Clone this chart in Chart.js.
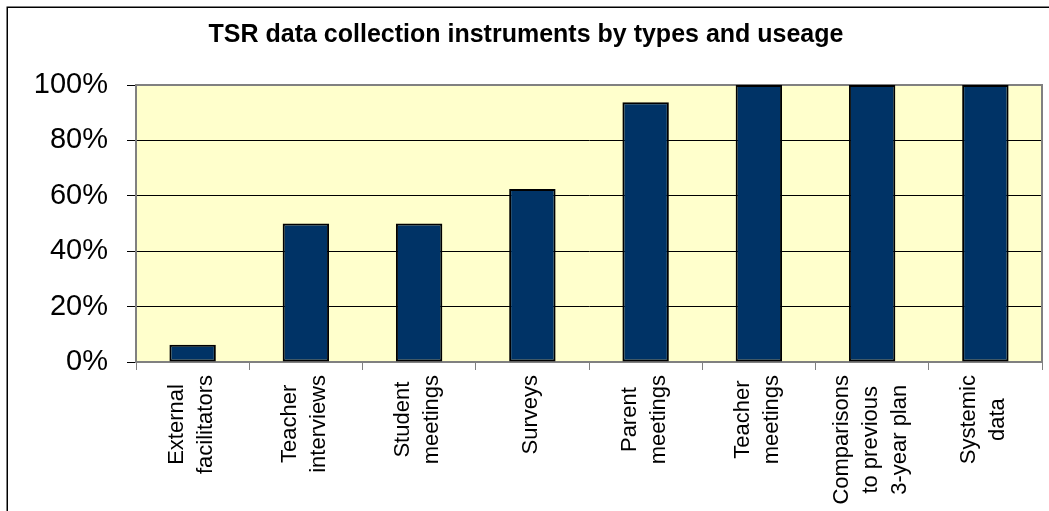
<!DOCTYPE html>
<html>
<head>
<meta charset="utf-8">
<script src="https://cdn.jsdelivr.net/npm/chart.js@4/dist/chart.umd.min.js"></script>
<style>
  html, body { margin: 0; padding: 0; background: #fff; }
  #wrap { width: 1049px; height: 511px; }
</style>
</head>
<body>
<div id="wrap"><canvas id="chart" width="1049" height="511"></canvas></div>
<script>
// data (share of schools using each instrument)
const categories = [
  ['External', 'facilitators'],
  ['Teacher', 'interviews'],
  ['Student', 'meetings'],
  ['Surveys'],
  ['Parent', 'meetings'],
  ['Teacher', 'meetings'],
  ['Comparisons', 'to previous', '3-year plan'],
  ['Systemic', 'data']
];
const usage = [6.25, 50, 50, 62.5, 93.75, 100, 100, 100];
const yTicks = [0, 20, 40, 60, 80, 100];

const FONT = '"Liberation Sans", Arial, sans-serif';

// white frame, yellow plot area and its grey border
const framePlugin = {
  id: 'frame',
  beforeDraw(chart) {
    const c = chart.ctx, a = chart.chartArea;
    c.save();
    c.fillStyle = '#fff';
    c.fillRect(0, 0, chart.width, chart.height);
    c.strokeStyle = '#000';
    c.lineWidth = 1.5;
    c.strokeRect(7.25, 7.25, chart.width + 20, chart.height + 20);
    c.fillStyle = '#FFFFCC';
    c.fillRect(a.left, a.top, a.right - a.left, a.bottom - a.top);
    c.restore();
  },
  beforeDatasetsDraw(chart) {
    const c = chart.ctx, a = chart.chartArea;
    c.save();
    c.strokeStyle = '#808080';
    c.lineWidth = 2;
    c.strokeRect(a.left, a.top, a.right - a.left, a.bottom - a.top);
    c.restore();
  }
};

// vertical category labels, lines centred inside their block
const xLabelPlugin = {
  id: 'xLabels',
  afterDraw(chart) {
    const c = chart.ctx, xs = chart.scales.x;
    const top = xs.top + 13, gap = 29;
    c.save();
    c.font = '22px ' + FONT;
    c.fillStyle = '#000';
    c.textAlign = 'center';
    c.textBaseline = 'middle';
    categories.forEach((lines, i) => {
      const px = xs.getPixelForValue(i) - 1.5;
      const w = Math.max(...lines.map(l => c.measureText(l).width));
      lines.forEach((l, j) => {
        c.save();
        c.translate(px + (j - (lines.length - 1) / 2) * gap, top + w / 2);
        c.rotate(-Math.PI / 2);
        c.fillText(l, 0, 0);
        c.restore();
      });
    });
    c.restore();
  }
};

new Chart(document.getElementById('chart'), {
  type: 'bar',
  data: {
    labels: categories.map(l => l.join(' ')),
    datasets: [{
      data: usage,
      backgroundColor: '#003366',
      borderColor: '#000',
      borderWidth: 2,
      borderSkipped: false,
      barPercentage: 0.41,
      categoryPercentage: 1
    }]
  },
  options: {
    responsive: false,
    animation: false,
    devicePixelRatio: 1,
    layout: { padding: { left: 10, right: 7, top: 0, bottom: 0 } },
    plugins: {
      legend: { display: false },
      tooltip: { enabled: false },
      title: {
        display: true,
        text: 'TSR data collection instruments by types and useage',
        color: '#000',
        font: { family: FONT, size: 25, weight: 'bold', lineHeight: 1.2 },
        padding: { top: 20, bottom: 35 }
      }
    },
    scales: {
      x: {
        offset: true,
        grid: { offset: true, drawOnChartArea: false, color: '#808080', tickLength: 8 },
        border: { color: '#808080', width: 2 },
        ticks: { display: false },
        afterFit(s) { s.height = 149; }
      },
      y: {
        min: 0,
        max: 100,
        afterBuildTicks(s) { s.ticks = yTicks.map(v => ({ value: v })); },
        grid: { color: '#000', lineWidth: 1, tickLength: 9, tickColor: '#000' },
        border: { color: '#808080', width: 2 },
        ticks: {
          color: '#000',
          padding: 19,
          font: { family: FONT, size: 29 },
          callback: v => v + '%'
        },
        afterFit(s) { s.width = 126; }
      }
    }
  },
  plugins: [framePlugin, xLabelPlugin]
});
</script>
</body>
</html>
